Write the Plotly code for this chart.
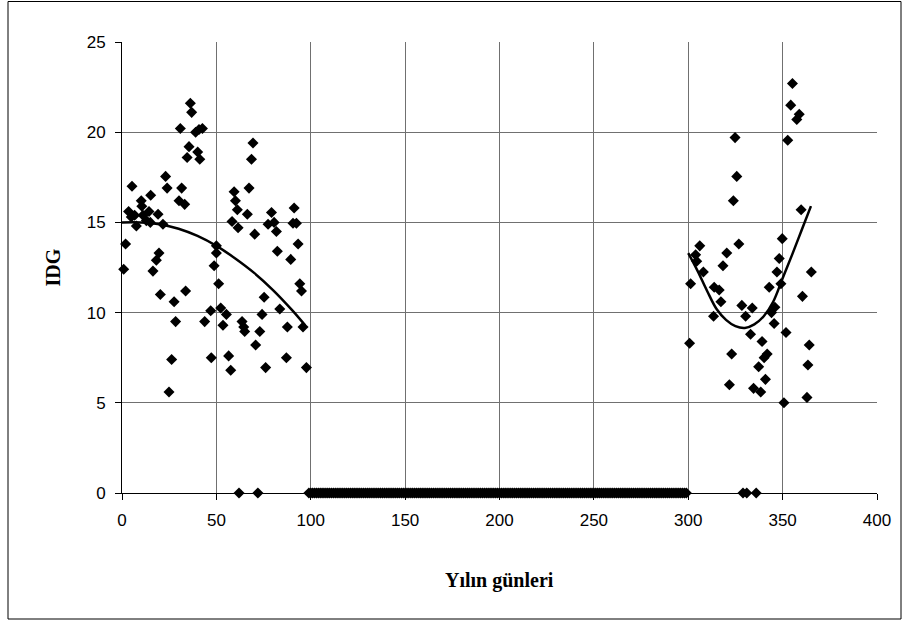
import plotly.graph_objects as go

# ---- data ----
left_days = [0.9, 1.9, 3.5, 4.9, 5.3, 6.7, 7.6, 10.2, 10.5, 11.1, 12.9, 14.3, 15.0, 15.2,
             16.4, 18.2, 19.1, 19.6, 20.3, 21.7, 23.1, 23.9, 24.9, 26.3, 27.6, 28.4, 30.2,
             30.9, 31.6, 33.2, 33.7, 34.5, 35.5, 36.2, 36.9, 39.0, 40.1, 40.8, 41.2, 42.6,
             43.8, 47.0, 47.3, 48.8, 50.0, 50.0, 51.2, 52.3, 53.5, 55.3, 56.5, 57.6, 58.3,
             59.4, 60.1, 61.1, 61.5, 63.6, 64.5, 65.0, 66.4, 67.3, 68.6, 69.4, 70.3, 70.8,
             73.0, 74.2, 75.3, 76.1, 77.4, 79.2, 80.6, 81.8, 82.3, 83.6, 87.1, 87.6, 89.4,
             90.6, 91.2, 92.4, 93.3, 94.2, 95.1, 95.9, 97.7]
left_idg = [12.4, 13.8, 15.6, 15.3, 17.0, 15.4, 14.8, 16.2, 15.9, 15.4, 15.1, 15.6, 15.0, 16.5,
            12.3, 12.9, 15.45, 13.3, 11.0, 14.9, 17.55, 16.9, 5.6, 7.4, 10.6, 9.5, 16.2,
            20.2, 16.9, 16.0, 11.2, 18.6, 19.2, 21.6, 21.1, 20.0, 18.9, 20.15, 18.5, 20.2,
            9.5, 10.1, 7.5, 12.6, 13.7, 13.3, 11.6, 10.25, 9.3, 9.9, 7.6, 6.8, 15.05,
            16.7, 16.2, 15.7, 14.7, 9.5, 9.2, 8.95, 15.45, 16.9, 18.5, 19.4, 14.35, 8.2,
            8.95, 9.9, 10.85, 6.95, 14.9, 15.55, 15.0, 14.5, 13.4, 10.2, 7.5, 9.2, 12.95,
            14.95, 15.8, 14.95, 13.8, 11.6, 11.2, 9.2, 6.95]
left_zero_days = [62, 72]

right_days = [355.2, 354.3, 358.8, 357.5, 352.7, 324.8, 325.7, 323.9, 359.8, 349.8, 306.1,
              326.8, 303.9, 320.4, 304.5, 348.2, 318.4, 308.0, 347.0, 365.2, 301.25, 313.75,
              316.4, 342.9, 349.1, 360.5, 317.3, 328.4, 333.9, 345.9, 313.4, 330.4, 344.1,
              345.5, 333.0, 351.8, 300.7, 339.1, 323.0, 364.1, 341.8, 340.2, 337.3, 363.4,
              340.9, 321.8, 334.6, 338.4, 362.9, 350.7]
right_idg = [22.7, 21.5, 21.0, 20.7, 19.55, 19.7, 17.55, 16.2, 15.7, 14.1, 13.7,
             13.8, 13.2, 13.3, 12.85, 13.0, 12.6, 12.25, 12.25, 12.25, 11.6, 11.4,
             11.25, 11.4, 11.6, 10.9, 10.6, 10.4, 10.25, 10.3, 9.8, 9.8, 10.0,
             9.4, 8.8, 8.9, 8.3, 8.4, 7.7, 8.2, 7.7, 7.5, 7.0, 7.1,
             6.3, 6.0, 5.8, 5.6, 5.3, 5.0]
right_zero_days = [329, 331, 336]

summer_zero_days = list(range(99, 300))   # days with IDG = 0

# polynomial trendlines, values
trend_left_days = [0, 10, 20, 30, 40, 50, 60, 70, 80, 90, 97]
trend_left_idg = [15.0, 15.0, 14.9, 14.65, 14.25, 13.7, 13.0, 12.2, 11.25, 10.15, 9.3]
trend_right_days = [300, 305, 310, 315, 320, 325, 330, 335, 340, 345, 350, 355, 360, 365]
trend_right_idg = [13.3, 12.3, 11.2, 10.2, 9.6, 9.25, 9.15, 9.35, 9.8, 10.6, 11.9, 13.2, 14.55, 15.9]

x_ticks = [0, 50, 100, 150, 200, 250, 300, 350, 400]
y_ticks = [0, 5, 10, 15, 20, 25]

zero_days = left_zero_days + summer_zero_days + right_zero_days
zero_idg = [0] * len(zero_days)

marker = dict(symbol="diamond", size=8.5, color="black", line=dict(width=0))
trend_line = dict(color="black", width=2.5, shape="spline", smoothing=1.0)

fig = go.Figure()
fig.add_trace(go.Scatter(x=zero_days, y=zero_idg, mode="markers", marker=marker, cliponaxis=False))
fig.add_trace(go.Scatter(x=left_days, y=left_idg, mode="markers", marker=marker, cliponaxis=False))
fig.add_trace(go.Scatter(x=right_days, y=right_idg, mode="markers", marker=marker, cliponaxis=False))
fig.add_trace(go.Scatter(x=trend_left_days, y=trend_left_idg, mode="lines", line=trend_line))
fig.add_trace(go.Scatter(x=trend_right_days, y=trend_right_idg, mode="lines", line=trend_line))

W, H = 902, 620
L, R, T, B = 122, 25, 42, 127
pw, ph = W - L - R, H - T - B

tickfont = dict(family="Liberation Sans, Arial", size=17, color="black")
titlefont = dict(family="Liberation Serif, Times New Roman", size=20, color="black")
fig.update_layout(
    width=W, height=H,
    margin=dict(l=L, r=R, t=T, b=B),
    paper_bgcolor="white", plot_bgcolor="white",
    showlegend=False,
    xaxis=dict(range=[0, 400], tickvals=x_ticks, showgrid=True, gridcolor="#707070", gridwidth=1,
               zeroline=False, showline=True, linecolor="black", linewidth=1,
               ticks="outside", ticklen=6, tickcolor="black", tickfont=tickfont,
               ticklabelstandoff=6),
    yaxis=dict(range=[0, 25], tickvals=y_ticks, showgrid=True, gridcolor="#707070", gridwidth=1,
               zeroline=False, showline=True, linecolor="black", linewidth=1,
               ticks="outside", ticklen=6, tickcolor="black", tickfont=tickfont,
               ticklabelstandoff=6),
    annotations=[
        dict(text="<b>Yılın günleri</b>", xref="paper", yref="paper", x=0.5, y=(T + ph - 580) / ph,
             xanchor="center", yanchor="middle", showarrow=False, font=titlefont),
        dict(text="<b>IDG</b>", xref="paper", yref="paper", x=(52 - L) / pw, y=0.5,
             xanchor="center", yanchor="middle", showarrow=False, textangle=-90, font=titlefont),
    ],
    shapes=[dict(type="rect", xref="paper", yref="paper",
                 x0=(8 - L) / pw, x1=(901 - L) / pw,
                 y0=(T + ph - 619) / ph, y1=(T + ph - 1.5) / ph,
                 line=dict(color="black", width=1), layer="below")],
)

fig.write_html("out.html")
